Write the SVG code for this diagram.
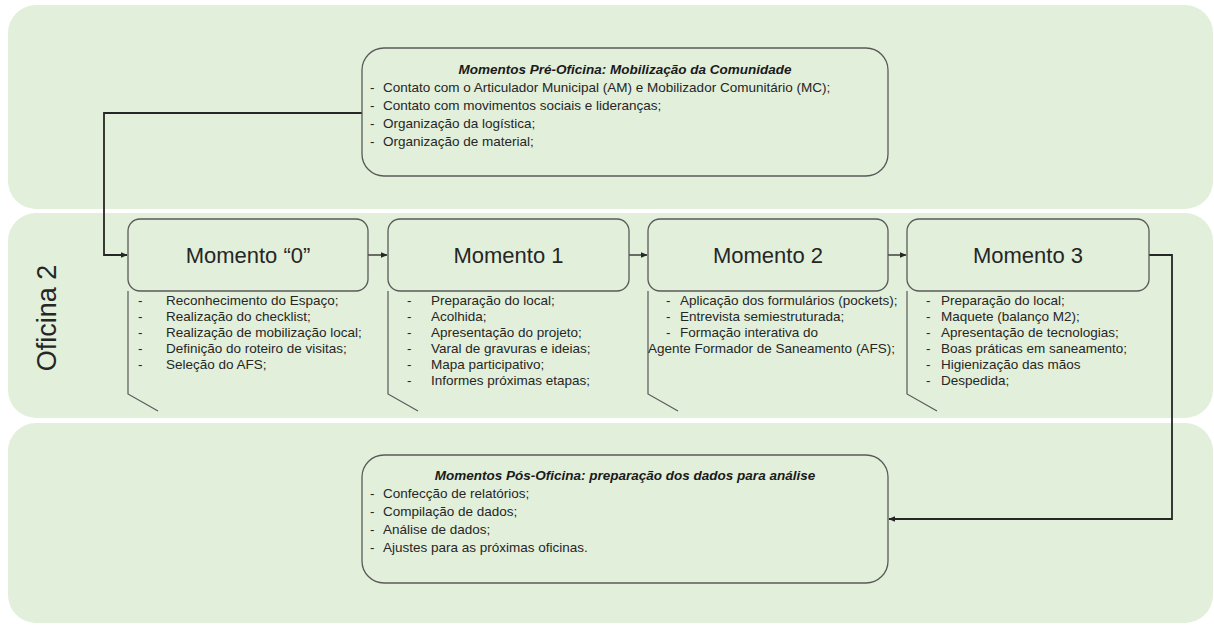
<svg xmlns="http://www.w3.org/2000/svg" width="1214" height="625" viewBox="0 0 1214 625">
<defs>
<style>
.band{fill:#e2efda;}
.box{fill:none;stroke:#595959;stroke-width:1.3;}
.call{fill:none;stroke:#595959;stroke-width:1.2;}
.t{font-family:"Liberation Sans",Arial,sans-serif;font-size:13.5px;fill:#262626;}
.ti{font-family:"Liberation Sans",Arial,sans-serif;font-size:13.5px;font-weight:bold;font-style:italic;fill:#1a1a1a;}
.h{font-family:"Liberation Sans",Arial,sans-serif;font-size:22px;fill:#262626;}
.side{font-family:"Liberation Sans",Arial,sans-serif;font-size:27px;fill:#262626;}
.con{fill:none;stroke:#262626;stroke-width:1.8;}
.con2{fill:none;stroke:#262626;stroke-width:1.3;}
</style>
<marker id="ah" viewBox="0 0 10 10" refX="9" refY="5" markerWidth="5" markerHeight="5" orient="auto" markerUnits="userSpaceOnUse">
<path d="M0,1 L10,5 L0,9 z" fill="#262626"/>
</marker>
<marker id="ah2" viewBox="0 0 10 10" refX="9" refY="5" markerWidth="7" markerHeight="7" orient="auto" markerUnits="userSpaceOnUse">
<path d="M0,1 L10,5 L0,9 z" fill="#262626"/>
</marker>
</defs>

<g id="bands">
<rect class="band" x="8" y="5" width="1205" height="204" rx="28"/>
<rect class="band" x="8" y="213" width="1205" height="205" rx="28"/>
<rect class="band" x="8" y="423" width="1205" height="200" rx="28"/>
<text class="side" transform="translate(56,318) rotate(-90)" text-anchor="middle">Oficina 2</text>
</g>

<g id="connectors">
<polyline class="con" points="362,113 104,113 104,255 127,255" marker-end="url(#ah2)"/>
<line class="con2" x1="368" y1="255" x2="387" y2="255" marker-end="url(#ah2)"/>
<line class="con2" x1="629" y1="255" x2="647" y2="255" marker-end="url(#ah2)"/>
<line class="con2" x1="888" y1="255" x2="906" y2="255" marker-end="url(#ah2)"/>
<polyline class="con" points="1149,255 1172,255 1172,519 889,519" marker-end="url(#ah2)"/>
</g>

<g id="pre-oficina">
<rect class="box" x="362" y="48" width="526" height="128" rx="22"/>
<text class="ti" x="625" y="74" text-anchor="middle">Momentos Pré-Oficina: Mobilização da Comunidade</text>
<text class="t" x="370" y="91.5">-</text><text class="t" x="383" y="91.5">Contato com o Articulador Municipal (AM) e Mobilizador Comunitário (MC);</text>
<text class="t" x="370" y="109.5">-</text><text class="t" x="383" y="109.5">Contato com movimentos sociais e lideranças;</text>
<text class="t" x="370" y="127.5">-</text><text class="t" x="383" y="127.5">Organização da logística;</text>
<text class="t" x="370" y="145.5">-</text><text class="t" x="383" y="145.5">Organização de material;</text>
</g>

<g id="momento0">
<rect class="box" x="128" y="219" width="240" height="72" rx="12"/>
<text class="h" x="248" y="263" text-anchor="middle">Momento “0”</text>
<polyline class="call" points="128,291 128,394 158,411"/>
<text class="t" x="138" y="305">-</text><text class="t" x="166" y="305">Reconhecimento do Espaço;</text>
<text class="t" x="138" y="321">-</text><text class="t" x="166" y="321">Realização do checklist;</text>
<text class="t" x="138" y="337">-</text><text class="t" x="166" y="337">Realização de mobilização local;</text>
<text class="t" x="138" y="353">-</text><text class="t" x="166" y="353">Definição do roteiro de visitas;</text>
<text class="t" x="138" y="369">-</text><text class="t" x="166" y="369">Seleção do AFS;</text>
</g>

<g id="momento1">
<rect class="box" x="388" y="219" width="241" height="72" rx="12"/>
<text class="h" x="508.5" y="263" text-anchor="middle">Momento 1</text>
<polyline class="call" points="388,291 388,394 418,411"/>
<text class="t" x="407" y="305">-</text><text class="t" x="431" y="305">Preparação do local;</text>
<text class="t" x="407" y="321">-</text><text class="t" x="431" y="321">Acolhida;</text>
<text class="t" x="407" y="337">-</text><text class="t" x="431" y="337">Apresentação do projeto;</text>
<text class="t" x="407" y="353">-</text><text class="t" x="431" y="353">Varal de gravuras e ideias;</text>
<text class="t" x="407" y="369">-</text><text class="t" x="431" y="369">Mapa participativo;</text>
<text class="t" x="407" y="385">-</text><text class="t" x="431" y="385">Informes próximas etapas;</text>
</g>

<g id="momento2">
<rect class="box" x="648" y="219" width="240" height="72" rx="12"/>
<text class="h" x="768" y="263" text-anchor="middle">Momento 2</text>
<polyline class="call" points="648,291 648,394 678,411"/>
<text class="t" x="666" y="305">-</text><text class="t" x="680" y="305">Aplicação dos formulários (pockets);</text>
<text class="t" x="666" y="321">-</text><text class="t" x="680" y="321">Entrevista semiestruturada;</text>
<text class="t" x="666" y="337">-</text><text class="t" x="680" y="337">Formação interativa do</text>
<text class="t" x="648" y="353">Agente Formador de Saneamento (AFS);</text>
</g>

<g id="momento3">
<rect class="box" x="907" y="219" width="242" height="72" rx="12"/>
<text class="h" x="1028" y="263" text-anchor="middle">Momento 3</text>
<polyline class="call" points="907,291 907,394 937,411"/>
<text class="t" x="926" y="305">-</text><text class="t" x="941" y="305">Preparação do local;</text>
<text class="t" x="926" y="321">-</text><text class="t" x="941" y="321">Maquete (balanço M2);</text>
<text class="t" x="926" y="337">-</text><text class="t" x="941" y="337">Apresentação de tecnologias;</text>
<text class="t" x="926" y="353">-</text><text class="t" x="941" y="353">Boas práticas em saneamento;</text>
<text class="t" x="926" y="369">-</text><text class="t" x="941" y="369">Higienização das mãos</text>
<text class="t" x="926" y="385">-</text><text class="t" x="941" y="385">Despedida;</text>
</g>

<g id="pos-oficina">
<rect class="box" x="362" y="455" width="526" height="128" rx="22"/>
<text class="ti" x="625" y="480" text-anchor="middle">Momentos Pós-Oficina: preparação dos dados para análise</text>
<text class="t" x="370" y="498">-</text><text class="t" x="383" y="498">Confecção de relatórios;</text>
<text class="t" x="370" y="516">-</text><text class="t" x="383" y="516">Compilação de dados;</text>
<text class="t" x="370" y="534">-</text><text class="t" x="383" y="534">Análise de dados;</text>
<text class="t" x="370" y="552">-</text><text class="t" x="383" y="552">Ajustes para as próximas oficinas.</text>
</g>
</svg>
